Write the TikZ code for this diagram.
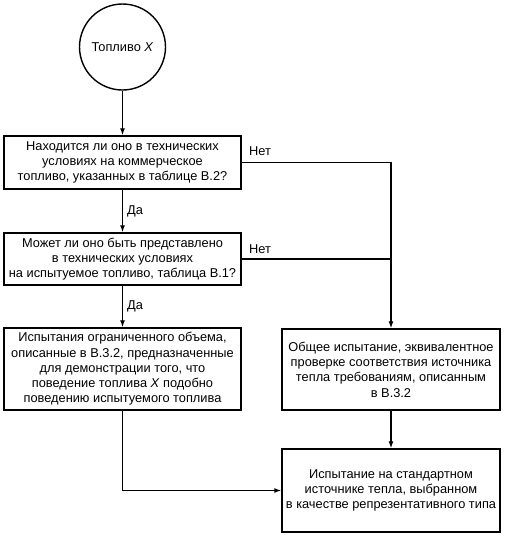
\documentclass[tikz,border=0pt]{standalone}
\usepackage{fontspec}
\setmainfont{Liberation Sans}
\usetikzlibrary{arrows.meta}
\begin{document}
\begin{tikzpicture}[x=1pt,y=-1pt,
  box/.style={draw,line width=1.4pt,align=center,inner sep=0pt,font=\fontsize{12.8}{15.3}\selectfont},
  flow/.style={line width=1.3pt,-{Latex[length=7pt,width=5pt]}},
  link/.style={line width=1.3pt},
  answer/.style={anchor=west,font=\fontsize{12.8}{15.3}\selectfont,inner sep=0pt}]
\useasboundingbox (0,0) rectangle (506,536);

% Start
\node[box,circle,minimum size=86pt] (fuel) at (122.5,47) {Топливо \textit{X}};

% Questions
\node[box,minimum width=237pt,minimum height=53pt] (spec) at (122.5,162.5)
  {Находится ли оно в технических\\условиях на коммерческое\\топливо, указанных в таблице В.2?};
\node[box,minimum width=237pt,minimum height=52pt] (test) at (122.5,259)
  {Может ли оно быть представлено\\в технических условиях\\на испытуемое топливо, таблица В.1?};

% Tests
\node[box,minimum width=237pt,minimum height=82pt] (limited) at (122.5,369)
  {Испытания ограниченного объема,\\описанные в В.3.2, предназначенные\\для демонстрации того, что\\поведение топлива \textit{X} подобно\\поведению испытуемого топлива};
\node[box,minimum width=218pt,minimum height=81pt] (general) at (391,369.5)
  {Общее испытание, эквивалентное\\проверке соответствия источника\\тепла требованиям, описанным\\в В.3.2};
\node[box,minimum width=218pt,minimum height=83pt] (standard) at (391,490.5)
  {Испытание на стандартном\\источнике тепла, выбранном\\в качестве репрезентативного типа};

% Connectors
\draw[flow] (fuel) -- (spec);
\draw[flow] (spec) -- node[answer,right=4pt] {Да} (test);
\draw[flow] (test) -- node[answer,right=4pt] {Да} (limited);
\draw[flow] (spec.east) -- (spec.east -| general.north) -- (general.north);
\draw[link] (test.east) -- (test.east -| general.north);
\draw[flow] (general) -- (standard);
\draw[flow] (limited.south) |- (standard.west);

% Labels
\node[answer] (no1) at (249,151) {Нет};
\node[answer] (no2) at (249,249) {Нет};
\end{tikzpicture}
\end{document}
